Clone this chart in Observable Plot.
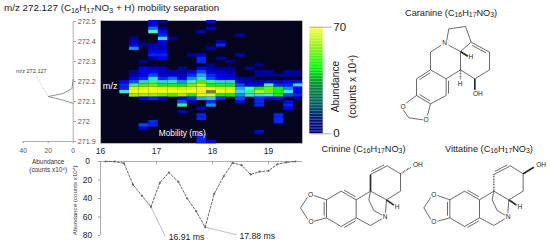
<!DOCTYPE html>
<html><head><meta charset="utf-8">
<script src="https://cdn.jsdelivr.net/npm/d3@7"></script>
<script src="https://cdn.jsdelivr.net/npm/@observablehq/plot@0.6"></script>
<style>
html,body{margin:0;padding:0;background:#fff}
#c{position:relative;width:550px;height:244px;overflow:hidden;font-family:"Liberation Sans",Arial,sans-serif;color:#222}
#c svg{position:absolute;overflow:visible;background:transparent}
.t{position:absolute;white-space:nowrap;line-height:1}
.t sub{font-size:75%;vertical-align:baseline;position:relative;top:.22em}
</style></head><body><div id="c"></div>
<script>
const FONT = '"Liberation Sans",Arial,sans-serif';
// ---------- data ----------
const mobilityTicks = [16, 17, 18, 19];
const mzTicks = [272.5, 272.4, 272.3, 272.2, 272.1, 272, 271.9];
const abundanceTicks = [0, 20, 40, 60, 80];
const spectrumTicks = [40, 20, 0];
// heat map rows (top to bottom), 21 mobility bins, abundance x10^4
const heat = [
[0,0,0,0,0,10,5,0,0,0,0,10,0,0,0,0,0,0,0,0,0],
[0,0,0,0,0,10,0,0,0,0,0,0,0,0,0,0,0,0,0,0,0],
[0,0,0,0,0,16,5,0,0,0,0,7,0,0,0,0,0,0,0,0,0],
[0,0,0,0,0,28,10,0,0,0,7,0,0,0,0,0,0,0,0,0,0],
[0,0,0,0,0,0,12,0,0,0,0,0,0,0,6,0,0,0,0,0,0],
[0,0,0,5,0,0,24,5,0,0,0,0,0,0,0,0,0,0,0,0,0],
[0,0,0,7,0,0,10,0,0,0,0,0,6,0,0,0,0,0,0,0,0],
[0,0,0,10,6,7,7,0,0,0,0,0,12,0,0,0,0,0,0,0,0],
[0,0,0,18,0,7,7,0,0,0,0,6,0,0,0,0,0,0,0,0,0],
[0,0,0,0,0,10,10,0,0,0,0,0,0,0,0,0,0,0,0,0,0],
[0,0,0,0,0,12,12,0,0,6,8,0,0,0,7,0,0,0,0,0,0],
[0,0,0,0,0,6,10,0,0,0,12,0,6,0,0,0,0,0,0,0,0],
[0,0,0,0,5,0,0,0,0,0,12,0,0,5,0,0,0,0,0,0,0],
[0,0,0,0,0,0,0,0,0,0,0,5,0,0,0,0,5,0,0,0,0],
[0,0,0,0,10,8,7,0,5,0,10,6,5,5,0,6,0,0,0,0,0],
[0,0,0,5,10,10,7,7,6,8,14,8,7,6,0,0,6,6,0,6,5],
[0,0,0,6,10,14,8,8,7,12,20,12,10,8,0,0,6,6,5,6,5],
[0,0,0,10,12,24,12,16,10,18,24,14,10,10,6,5,0,0,0,0,0],
[0,0,10,14,22,30,22,24,18,26,38,30,22,22,7,6,6,8,7,10,10],
[0,0,12,30,38,40,36,36,35,40,46,36,34,34,14,10,10,26,12,12,24],
[0,0,12,46,48,52,48,48,46,48,54,50,46,46,20,28,36,40,34,18,10],
[0,0,26,50,50,52,52,50,50,50,56,70,50,48,24,30,44,40,36,26,10],
[0,0,0,42,42,42,40,38,42,36,48,48,36,35,18,24,24,26,36,14,12],
[0,0,0,0,10,12,8,0,10,12,20,22,12,0,14,0,12,8,10,0,6],
[0,0,0,0,0,0,0,0,14,6,0,12,0,0,10,0,12,0,0,10,0],
[0,0,0,0,0,0,0,0,30,0,0,18,0,0,0,0,12,0,0,12,0],
[0,0,0,0,0,0,0,0,0,0,7,0,0,0,0,0,0,0,0,10,0],
[0,0,0,0,0,0,0,0,7,0,0,0,0,0,0,0,0,0,0,0,0],
[0,0,0,0,0,0,0,0,0,0,12,0,0,0,0,0,0,0,12,0,0],
[0,0,0,0,0,0,0,0,0,0,12,0,0,0,0,0,0,0,12,0,0],
[0,0,0,0,0,12,0,0,0,0,0,0,0,0,0,0,0,0,12,0,0],
[0,0,0,0,14,12,0,0,0,0,0,0,0,0,0,0,0,0,0,0,0],
[0,0,0,0,8,0,0,0,0,0,0,0,0,0,0,0,0,0,0,0,0],
[0,0,0,0,0,0,0,0,0,0,0,0,0,0,0,0,10,0,0,0,0],
[0,0,0,0,0,0,0,0,0,0,12,0,0,0,0,0,0,0,0,0,0],
[0,0,0,0,0,0,0,0,0,0,12,0,0,0,0,0,0,0,0,0,0],
[0,0,0,0,0,0,0,0,0,0,12,10,0,0,0,0,0,0,0,0,0]
];
const mobilityMs = [16.09,16.25,16.42,16.58,16.74,16.90,17.06,17.22,17.39,17.55,17.71,17.87,18.03,18.20,18.36,18.52,18.68,18.84,19.00,19.16,19.32,19.48];
const mobilityAbund = [0,0,2,25,37,49,23,12,22,40,54,71,35,16,1.5,4,14,11,10,3,1,0];
const spectrumMz = [272.21,272.165,272.14,272.125,272.105,272.09];
const spectrumAbund = [0,1,8,20,7,0];
const peakLabels = ["16.91 ms","17.88 ms"];
const peakFrom = [[16.90,49],[17.87,71]];
const peakTo = [[17.157,81],[18.435,79.3]];
const peakText = [[17.217,82],[18.48,80.5]];
const binWidth = 0.1723, rowHeight = 1/60;
const colorStops = [0,4,7,10,16,22,28,35,42,50,60,70];
const colorHexes = ["#05051f","#000080","#0000c0","#0000ff","#0070ff","#30c8ff","#40ffb0","#00f000","#a0f000","#ffff00","#e8e020","#777777"];
const barStops = [0,8,20,32,44,58,70];
const barHexes = ["#000080","#00107c","#006060","#008f30","#00ff00","#a0f020","#ffff40"];
// structures: x1,y1,x2,y2,kind  (0 single, +-1 double, 2 wedge, 3 hash)
const caranineBonds = [
[469,118,475,85,0],[475,85,525,78,0],[525,78,542,125,0],[542,125,510,153,0],[510,153,474,134,0],
[542,125,597,155,1],[597,155,597,208,0],[597,208,553,235,0],[553,235,510,208,0],[510,208,510,153,0],
[510,153,532,167,2],[510,208,510,238,3],[553,235,553,268,2],
[452,134,420,155,0],[420,155,420,208,0],
[420,208,378,235,-1],[378,235,378,285,0],[378,285,420,310,-1],[420,310,467,285,0],[467,285,467,235,1],[467,235,420,208,0],[467,235,510,208,0],
[378,285,347,308,0],[420,310,411,345,0],[338,328,355,352,0],[355,352,397,358,0]];
const caranineAtoms = [["N",462,128],["H",541,170],["H",509,250],["OH",562,280],["O",338,318],["O",407,357]];
const crinineBonds = [
[108,208,108,262,1],[108,262,152,288,0],[152,288,197,262,1],[197,262,197,208,0],[197,208,152,182,1],[152,182,108,208,0],
[108,208,70,195,0],[108,262,71,272,0],[51,200,30,232,0],[52,267,30,232,0],
[197,208,240,182,0],[197,262,240,285,0],[240,285,274,265,0],
[240,182,240,132,2],[240,132,290,106,-1],[290,106,330,130,0],[330,130,330,182,0],[330,182,288,208,0],[288,208,240,182,0],
[330,130,362,110,3],[288,208,285,248,0],[288,208,310,224,2],
[240,182,235,208,0],[235,208,250,240,0],[250,240,275,254,0]];
const crinineAtoms = [["O",60,192],["O",62,275],["N",284,259],["OH",382,104],["H",320,228]];
const vittatineBonds = [
[478,208,478,262,1],[478,262,522,288,0],[522,288,567,262,1],[567,262,567,208,0],[567,208,522,182,1],[522,182,478,208,0],
[478,208,441,195,0],[478,262,441,272,0],[421,200,400,232,0],[421,267,400,232,0],
[567,208,610,182,0],[567,262,610,285,0],[610,285,643,265,0],
[610,182,610,132,3],[610,132,660,106,-1],[660,106,698,130,0],[698,130,698,182,0],[698,182,655,208,0],[655,208,610,182,0],
[698,130,730,110,2],[655,208,652,248,0],[655,208,678,224,2],
[610,182,605,208,0],[605,208,620,240,0],[620,240,644,254,0]];
const vittatineAtoms = [["O",430,192],["O",430,275],["N",653,259],["OH",752,104],["H",688,228]];
// ---------- helpers ----------
const root = document.getElementById("c");
function place(svg,l,t){svg.style.left=l+"px";svg.style.top=t+"px";root.appendChild(svg);}
function label(html,l,t,size,extra){const d=document.createElement("div");d.className="t";d.innerHTML=html;
 d.style.cssText=`left:${l}px;top:${t}px;font-size:${size}px;`+(extra||"");root.appendChild(d);}
// ---------- heat map ----------
const cells = heat.flatMap((row,r)=>row.map((v,c)=>({
  x1:16+c*binWidth,x2:Math.min(16+(c+1)*binWidth,19.607),
  y1:272.505-r*rowHeight,y2:272.505-(r+1)*rowHeight,v})).filter(d=>d.v>0));
place(Plot.plot({width:202,height:143,marginLeft:0,marginRight:0,marginTop:0,marginBottom:20,
  style:{fontFamily:FONT,background:"transparent"},
  x:{domain:[16,19.607],axis:null},y:{domain:[271.89,272.505],axis:null},
  color:{type:"linear",domain:colorStops,range:colorHexes},
  marks:[
    Plot.frame({fill:"#05051f",stroke:"#c8c8c8",strokeWidth:0.8}),
    Plot.rect(cells,{x1:"x1",x2:"x2",y1:"y1",y2:"y2",fill:"v"}),
    Plot.axisX({ticks:mobilityTicks,tickSize:0,tickPadding:4,tickFormat:d=>String(d),fontSize:8.5,label:null,color:"#222"}),
    Plot.text(["m/z"],{x:[16.04],y:[272.176],text:d=>d,textAnchor:"start",fill:"#fff",fontSize:9.3}),
    Plot.text(["Mobility (ms)"],{x:[17.46],y:[271.94],text:d=>d,fill:"#fff",fontSize:8.3})
  ]}),100,20);
// ---------- left spectrum ----------
place(Plot.plot({width:100,height:175,marginLeft:22.7,marginRight:27.3,marginTop:21,marginBottom:34,
  style:{fontFamily:FONT,background:"transparent"},
  x:{domain:[40,0],axis:null},y:{domain:[271.9,272.5],axis:null},
  marks:[
    Plot.ruleX([0],{stroke:"#999",strokeWidth:0.8}),
    Plot.ruleY([271.9],{stroke:"#999",strokeWidth:0.8}),
    Plot.axisY({anchor:"right",ticks:mzTicks,tickSize:2,tickPadding:2.5,tickFormat:d=>String(d),fontSize:7.2,label:null,color:"#555",stroke:"#999"}),
    Plot.axisX({ticks:spectrumTicks,tickSize:2,tickPadding:4.5,tickFormat:d=>String(d),fontSize:6.6,label:null,color:"#555",stroke:"#999"}),
    Plot.line(spectrumAbund.map((a,i)=>[a,spectrumMz[i]]),{x:"0",y:"1",stroke:"#666",strokeWidth:0.8,strokeDasharray:"1.5,1"}),
    Plot.link([[20,272.125,30,272.23]],{x1:"0",y1:"1",x2:"2",y2:"3",stroke:"#aaa",strokeWidth:0.6,strokeDasharray:"1,0.8"}),
    Plot.text(["m/z 272.127"],{x:[33.5],y:[272.252],text:d=>d,fontSize:5.6,fill:"#444"}),
    Plot.text(["Abundance"],{x:[20],y:[271.9],dy:20,text:d=>d,fontSize:6.4,fill:"#333"}),
    Plot.text(["(counts x10⁴)"],{x:[20],y:[271.9],dy:28,text:d=>d,fontSize:6.4,fill:"#333"})
  ]}),0,0);
// ---------- mobility trace ----------
const trace = mobilityMs.map((m,i)=>({m,a:mobilityAbund[i]}));
place(Plot.plot({width:250,height:94,marginLeft:40,marginRight:8,marginTop:11,marginBottom:9,
  style:{fontFamily:FONT,background:"transparent"},
  x:{domain:[16,19.607],axis:null},y:{domain:[80,0],axis:null},
  marks:[
    Plot.ruleY([0],{stroke:"#999",strokeWidth:0.8}),
    Plot.ruleX([16],{stroke:"#999",strokeWidth:0.8}),
    Plot.link(mobilityTicks.slice(1),{x1:d=>d,x2:d=>d,y1:0,y2:3,stroke:"#999",strokeWidth:0.8}),
    Plot.axisY({ticks:abundanceTicks,tickSize:2,tickPadding:11,textAnchor:"middle",fontSize:8.5,tickFormat:d=>String(d),label:null,color:"#222",stroke:"#999"}),
    Plot.text(["Abundance (counts x10⁴)"],{x:[16],y:[42],dx:-25,rotate:-90,text:d=>d,fontSize:6.2,fill:"#333"}),
    Plot.link(peakFrom.map((f,i)=>[...f,...peakTo[i]]),{x1:"0",y1:"1",x2:"2",y2:"3",stroke:"#b0b0b0",strokeWidth:0.8}),
    Plot.line(trace,{x:"m",y:"a",stroke:"#555",strokeWidth:0.9,strokeDasharray:"2.2,1.7"}),
    Plot.dot(trace,{x:"m",y:"a",r:1.1,fill:"#666"}),
    Plot.text(peakLabels,{x:(d,i)=>peakText[i][0],y:(d,i)=>peakText[i][1],text:d=>d,textAnchor:"start",fontSize:8.7,fill:"#222"})
  ]}),60,150);
// ---------- colour bar ----------
const levels = d3.range(0,70);
place(Plot.plot({width:70,height:150,marginLeft:9.3,marginRight:47.3,marginTop:26.7,marginBottom:16.7,
  style:{fontFamily:FONT,background:"transparent"},
  x:{domain:[0,1],axis:null},y:{domain:[0,70],axis:null},
  color:{type:"linear",domain:barStops,range:barHexes},
  marks:[
    Plot.rect(levels,{x1:0,x2:1,y1:d=>d,y2:d=>d+1,fill:d=>d+0.5}),
    Plot.link([0,70],{x1:0,x2:1.62,y1:d=>d,y2:d=>d,stroke:"#999",strokeWidth:0.8}),
    Plot.text([0,70],{x:1.75,y:d=>d,text:d=>String(d),textAnchor:"start",fontSize:11.5,fill:"#222"}),
    Plot.text(["Abundance"],{x:[1.92],y:[31],rotate:-90,text:d=>d,fontSize:10.2,fill:"#222"}),
    Plot.text(["(counts x 10⁴)"],{x:[3.19],y:[31],rotate:-90,text:d=>d,fontSize:10.2,fill:"#222"})
  ]}),300,0);
// ---------- structures ----------
function bondMarks(bonds,atoms,yOff){
  const lines=[];
  for(const [x1,y1,x2,y2,k] of bonds){
    lines.push({x1,y1:y1+yOff,x2,y2:y2+yOff,k});
    if(k===1||k===-1){
      const dx=x2-x1,dy=y2-y1,L=Math.hypot(dx,dy),nx=-dy/L*7*k,ny=dx/L*7*k;
      lines.push({x1:x1+dx*.12+nx,y1:y1+dy*.12+ny+yOff,x2:x2-dx*.12+nx,y2:y2-dy*.12+ny+yOff,k:0});
    }
  }
  const lk=(f,o)=>Plot.link(lines.filter(f),{x1:"x1",y1:"y1",x2:"x2",y2:"y2",stroke:"#2a2a2a",...o});
  return [
    lk(d=>Math.abs(d.k)<2,{strokeWidth:0.7}),
    lk(d=>d.k===2,{strokeWidth:1.7}),
    lk(d=>d.k===3,{strokeWidth:1.5,strokeDasharray:"0.7,0.9"}),
    Plot.text(atoms,{x:"1",y:d=>d[2]+yOff,text:"0",fontSize:6.6,fill:"#222"})
  ];
}
place(Plot.plot({width:260,height:244,margin:0,
  style:{fontFamily:FONT,background:"transparent"},
  x:{domain:[0,780],axis:null},y:{domain:[732,0],axis:null},
  marks:[...bondMarks(caranineBonds,caranineAtoms,0),...bondMarks(crinineBonds,crinineAtoms,390),...bondMarks(vittatineBonds,vittatineAtoms,390)]
}),290,0);
// ---------- titles ----------
label("m/z 272.127 (C<sub>16</sub>H<sub>17</sub>NO<sub>3</sub> + H) mobility separation",4,3,9.8);
label("Caranine (C<sub>16</sub>H<sub>17</sub>NO<sub>3</sub>)",405,8.5,9.2);
label("Crinine (C<sub>16</sub>H<sub>17</sub>NO<sub>3</sub>)",321.5,144.5,9.2);
label("Vittatine (C<sub>16</sub>H<sub>17</sub>NO<sub>3</sub>)",445,144.5,9.2);
</script></body></html>
